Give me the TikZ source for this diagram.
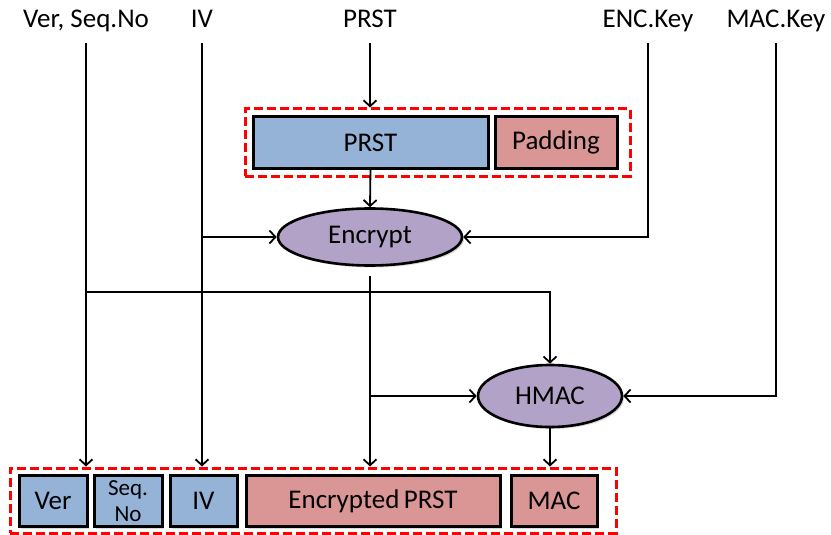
\documentclass[tikz,border=0pt]{standalone}
\usepackage{fontspec}
\setmainfont{Carlito}
\usetikzlibrary{positioning, shapes.geometric, arrows.meta, shadows}
\definecolor{azul}{HTML}{95B3D7}
\definecolor{rosa}{HTML}{D99694}
\definecolor{lila}{HTML}{B3A2C7}

\begin{document}
\begin{tikzpicture}[x=1pt, y=-1pt, line width=1.8pt,
    >={Straight Barb[length=6pt,width=13pt]},
    font=\fontsize{27}{29}\selectfont,
    entrada/.style={inner xsep=0pt, inner ysep=9pt, text height=17pt, text depth=5pt},
    sombra/.style={drop shadow={shadow xshift=2pt, shadow yshift=-2pt, opacity=0.3}},
    campo/.style={draw, line width=3pt, rectangle, inner sep=0pt, outer sep=0pt,
                  minimum height=51pt, sombra},
    bloque/.style={draw, line width=2.6pt, ellipse, inner sep=0pt, fill=lila, sombra},
    marco/.style={draw=red, line width=3pt, dash pattern=on 9pt off 4pt, inner sep=0pt}]
    			\useasboundingbox (0,0) rectangle (831,535);
    			
    			% entradas
    			\node [entrada] (lver) at (86,22) {Ver, Seq.No};
    			\node [entrada] (liv) at (202,22) {IV};
    			\node [entrada] (lprst) at (370,22) {PRST};
    			\node [entrada] (lenc) at (648,22) {ENC.Key};
    			\node [entrada] (lmac) at (776,22) {MAC.Key};
    			
    			% mensaje en claro
    			\node [campo, fill=azul, minimum width=235pt] (prst) at (370.5,142.5) {PRST};
    			\node [campo, fill=rosa, minimum width=122pt] (pad) [right=7pt of prst] {Padding};
    			\node [marco, minimum width=385pt, minimum height=67pt] (marco1) at (437.5,142.5) {};
    			
    			% cifrado y mac
    			\node [bloque, minimum width=184pt, minimum height=57pt] (enc) at (370,237) {Encrypt};
    			\node [bloque, minimum width=144pt, minimum height=62pt] (hmac) at (550,396) {HMAC};
    			
    			% registro de salida
    			\node [campo, fill=azul, minimum width=68pt] (ver) at (53,501) {Ver};
    			\node [campo, fill=azul, minimum width=68pt, align=center,
    			       font=\fontsize{23}{26}\selectfont] (seq) [right=7pt of ver] {Seq.\\No};
    			\node [campo, fill=azul, minimum width=67pt] (iv) [right=8pt of seq] {IV};
    			\node [campo, fill=rosa, minimum width=254pt] (eprst) [right=9pt of iv] {Encrypted\,PRST};
    			\node [campo, fill=rosa, minimum width=86pt] (mac) [right=11pt of eprst] {MAC};
    			\node [marco, minimum width=606pt, minimum height=65pt] (marco2) at (313,500.5) {};
    			
    			\coordinate (rama) at (0,292);
    			
    			% conexiones
    			\path[->]
    			(lver.south) edge (lver.south |- marco2.north)
    			(liv.south) edge (liv.south |- marco2.north)
    			(liv.south |- enc) edge (enc.west)
    			(lprst.south) edge (lprst.south |- marco1.north)
    			(prst.south) edge (enc.north)
    			(enc.south) edge [shorten <=9pt] (enc.south |- marco2.north)
    			(enc.south |- hmac) edge (hmac.west)
    			(hmac.south) edge (hmac.south |- marco2.north)
    			;
    			\draw[->] (lver.south |- rama) -| (hmac.north);
    			\draw[->] (lenc.south) |- (enc.east);
    			\draw[->] (lmac.south) |- (hmac.east);
\end{tikzpicture}
\end{document}
